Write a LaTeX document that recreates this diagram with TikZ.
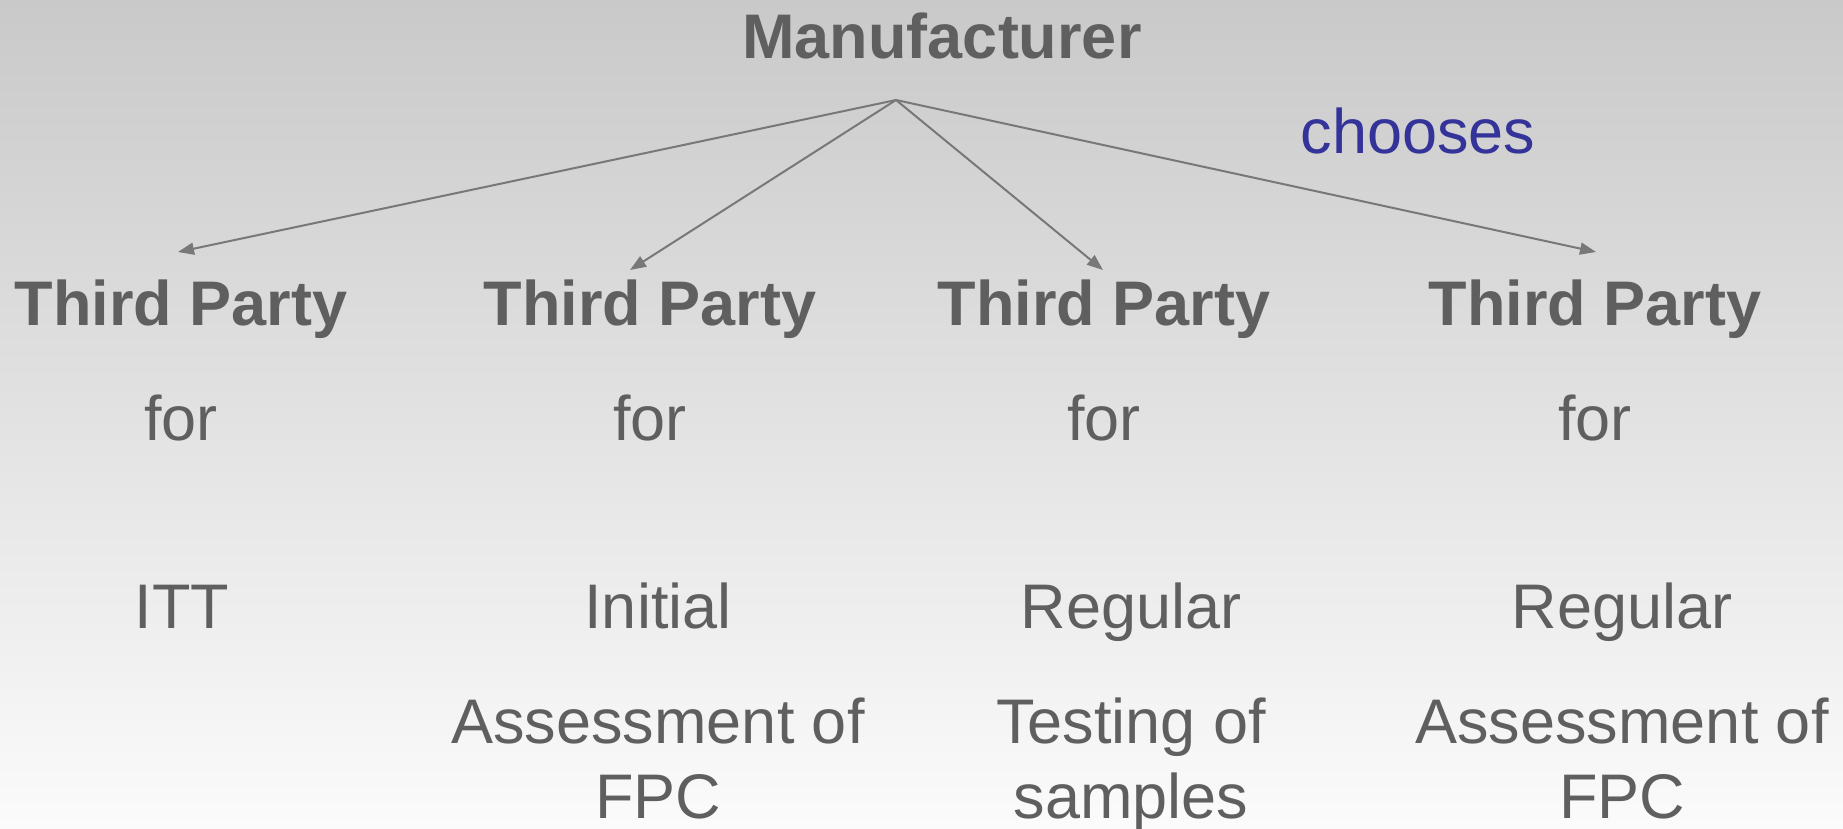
\documentclass[tikz,border=0pt]{standalone}
\usepackage{fontspec}
\setmainfont{Liberation Sans}
\usetikzlibrary{arrows.meta}
\definecolor{txt}{HTML}{5F5F5F}
\definecolor{ln}{HTML}{787878}
\definecolor{blu}{HTML}{333399}
\definecolor{bgtop}{HTML}{C9C9C9}
\definecolor{bgbot}{HTML}{FBFBFB}
\tikzset{
  lbl/.style={anchor=base, inner sep=0pt, text=txt, font=\fontsize{63}{75}\selectfont, align=center},
  blbl/.style={lbl, font=\fontsize{63}{75}\selectfont\bfseries},
  arr/.style={draw=ln, line width=2pt, -{Triangle[length=16pt,width=12pt]}}
}
\begin{document}
\begin{tikzpicture}[x=1pt,y=-1pt]
\useasboundingbox (0,0) rectangle (1843,828);
\shade[top color=bgtop, bottom color=bgbot] (0,0) rectangle (1843,828);
\node[blbl] (man) at (942,58) {Manufacturer};
\coordinate (apex) at (896,100);
\node[lbl, text=blu] (choose) at (1418,153) {chooses};
\node[blbl] (tp1) at (181,325.6) {Third Party};
\node[blbl] (tp2) at (650,325.6) {Third Party};
\node[blbl] (tp3) at (1104,325.6) {Third Party};
\node[blbl] (tp4) at (1595,325.6) {Third Party};
\coordinate (e1) at (178,252);
\coordinate (e2) at (630,270);
\coordinate (e3) at (1103,270);
\coordinate (e4) at (1596,252);
\draw[arr] (apex) -- (e1);
\draw[arr] (apex) -- (e2);
\draw[arr] (apex) -- (e3);
\draw[arr] (apex) -- (e4);
\node[lbl] (f1) at (181,440) {for};
\node[lbl] (f2) at (650,440) {for};
\node[lbl] (f3) at (1104,440) {for};
\node[lbl] (f4) at (1595,440) {for};
\node[lbl] (w1) at (182,628) {ITT};
\node[lbl] (w2) at (658,628) {Initial};
\node[lbl] (w3) at (1131,628) {Regular};
\node[lbl] (w4) at (1622,628) {Regular};
\node[lbl] (d2) at (658,818) {Assessment of\\FPC};
\node[lbl] (d3) at (1131,818) {Testing of\\samples};
\node[lbl] (d4) at (1622,818) {Assessment of\\FPC};
\end{tikzpicture}
\end{document}
